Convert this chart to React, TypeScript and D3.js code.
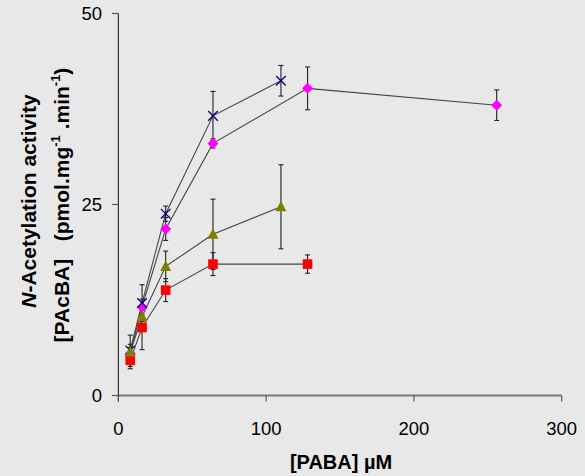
import React from "react";
import * as d3 from "d3";

const xTicks = [0, 100, 200, 300];
const yTicks = [0, 25, 50];

type Pt = { x: number; y: number; e: number };

const redX = [8, 16, 32, 64, 128];
const redY = [4.6, 8.9, 13.8, 17.2, 17.2];
const redE = [0.8, 2.9, 1.5, 1.5, 1.2];

const oliveX = [8, 16, 32, 64, 110];
const oliveY = [5.7, 10.3, 16.9, 21.1, 24.7];
const oliveE = [2.2, 1.0, 2.0, 4.6, 5.5];

const navyX = [8, 16, 32, 64, 110];
const navyY = [5.9, 12.1, 23.8, 36.6, 41.2];
const navyE = [0.8, 2.4, 1.0, 3.2, 2.0];

const magX = [8, 16, 32, 64, 128, 256];
const magY = [5.5, 11.6, 21.8, 33.0, 40.2, 38.0];
const magE = [0.8, 1.0, 1.5, 0.6, 2.8, 2.0];

const zip = (xs: number[], ys: number[], es: number[]): Pt[] =>
  xs.map((x, i) => ({ x, y: ys[i], e: es[i] }));

const W = 585;
const H = 476;

export default function App() {
  const x = d3.scaleLinear().domain([0, 300]).range([118.4, 561.7]);
  const y = d3.scaleLinear().domain([0, 50]).range([395.5, 13.5]);
  const line = d3
    .line<Pt>()
    .x((d) => x(d.x))
    .y((d) => y(d.y));

  const series = [
    { key: "mag", data: zip(magX, magY, magE), color: "#FF00FF", shape: "diamond" },
    { key: "red", data: zip(redX, redY, redE), color: "#FF0000", shape: "square" },
    { key: "navy", data: zip(navyX, navyY, navyE), color: "#000080", shape: "x" },
    { key: "olive", data: zip(oliveX, oliveY, oliveE), color: "#808000", shape: "triangle" },
  ];

  const marker = (s: string, color: string, cx: number, cy: number, k: string) => {
    if (s === "square")
      return <rect key={k} x={cx - 4.8} y={cy - 4.8} width={9.6} height={9.6} fill={color} />;
    if (s === "diamond")
      return (
        <path key={k} d={`M${cx},${cy - 5.5}L${cx + 5.5},${cy}L${cx},${cy + 5.5}L${cx - 5.5},${cy}Z`} fill={color} />
      );
    if (s === "triangle")
      return (
        <path key={k} d={`M${cx},${cy - 6}L${cx + 5.5},${cy + 4.5}L${cx - 5.5},${cy + 4.5}Z`} fill={color} />
      );
    return (
      <path
        key={k}
        d={`M${cx - 4.8},${cy - 4.8}L${cx + 4.8},${cy + 4.8}M${cx + 4.8},${cy - 4.8}L${cx - 4.8},${cy + 4.8}`}
        stroke={color}
        strokeWidth={1.3}
        fill="none"
      />
    );
  };

  const font = "'Liberation Sans', Arial, sans-serif";

  return (
    <svg
      width={W}
      height={H}
      style={{ position: "absolute", left: 0, top: 0 }}
      fontFamily={font}
    >
      <rect x={0} y={0} width={W} height={H} fill="#e8e8e8" />

      {/* connecting lines */}
      {series.map((s) => (
        <path key={"l" + s.key} d={line(s.data) || ""} fill="none" stroke="#444" strokeWidth={1.1} />
      ))}

      {/* error bars */}
      {series.map((s) =>
        s.data.map((d, i) => {
          const cx = x(d.x);
          const y1 = y(d.y + d.e);
          const y2 = y(d.y - d.e);
          return (
            <g key={"e" + s.key + i} stroke="#222" strokeWidth={1.1}>
              <line x1={cx} x2={cx} y1={y1} y2={y2} />
              <line x1={cx - 2.5} x2={cx + 2.5} y1={y1} y2={y1} />
              <line x1={cx - 2.5} x2={cx + 2.5} y1={y2} y2={y2} />
            </g>
          );
        })
      )}

      {/* markers */}
      {series.map((s) => s.data.map((d, i) => marker(s.shape, s.color, x(d.x), y(d.y), s.key + i)))}

      {/* axes */}
      <line x1={x(0)} x2={x(300)} y1={y(0)} y2={y(0)} stroke="#777" strokeWidth={1.8} />
      <line x1={x(0)} x2={x(0)} y1={y(50)} y2={y(0) + 6} stroke="#333" strokeWidth={1.2} />
      {xTicks.map((t) => (
        <g key={"xt" + t}>
          <line x1={x(t)} x2={x(t)} y1={y(0)} y2={y(0) + 6} stroke="#555" strokeWidth={1.2} />
          <text x={x(t)} y={435} textAnchor="middle" fontSize={18.5} fill="#000">
            {t}
          </text>
        </g>
      ))}
      {yTicks.map((t) => (
        <g key={"yt" + t}>
          <line x1={x(0) - 6.5} x2={x(0)} y1={y(t)} y2={y(t)} stroke="#555" strokeWidth={1.2} />
          <text x={102} y={y(t)} dy="0.36em" textAnchor="end" fontSize={18.5} fill="#000">
            {t}
          </text>
        </g>
      ))}

      {/* axis titles */}
      <text x={341} y={469} textAnchor="middle" fontSize={20} fontWeight="bold" fill="#000">
        [PABA] µM
      </text>
      <text
        transform={`translate(35.5,201) rotate(-90)`}
        textAnchor="middle"
        fontSize={21}
        fontWeight="bold"
        fill="#000"
      >
        <tspan fontStyle="italic">N</tspan>-Acetylation activity
      </text>
      <text
        transform={`translate(68.5,205) rotate(-90)`}
        textAnchor="middle"
        fontSize={21}
        fontWeight="bold"
        fill="#000"
        xmlSpace="preserve"
        style={{ whiteSpace: "pre" }}
      >
        {"[PAcBA]   (pmol.mg"}
        <tspan fontSize={13} dy={-9}>-1</tspan>
        <tspan dy={9}>{" .min"}</tspan>
        <tspan fontSize={13} dy={-9}>-1</tspan>
        <tspan dy={9}>)</tspan>
      </text>
    </svg>
  );
}
